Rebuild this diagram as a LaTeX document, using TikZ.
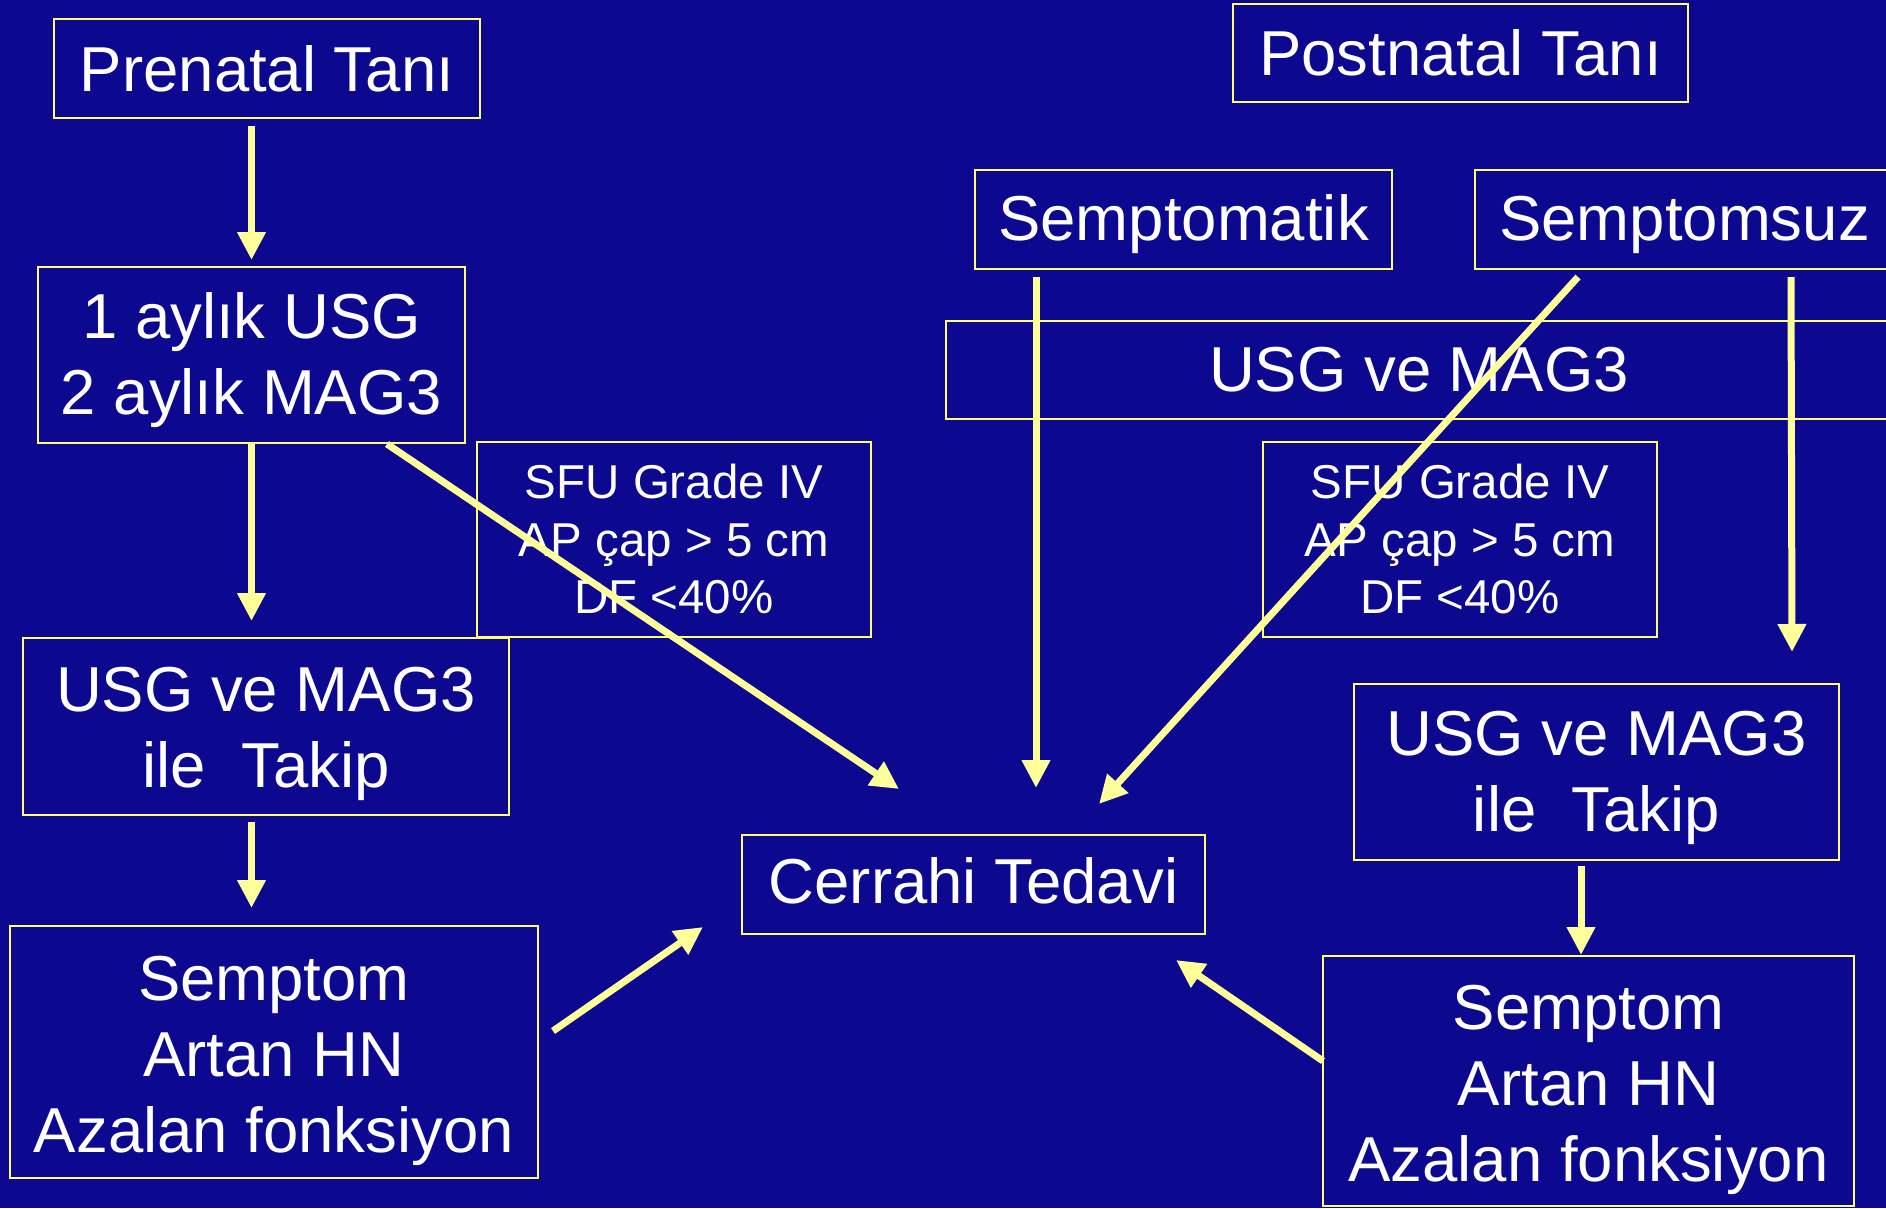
\documentclass[tikz,border=0pt]{standalone}
\usepackage{fontspec}
\setmainfont{Liberation Sans}
\usetikzlibrary{arrows.meta,calc}
\definecolor{bg}{RGB}{12,8,144}
\definecolor{boxline}{RGB}{255,255,110}
\definecolor{arrowcol}{RGB}{255,255,153}
\newcommand{\shtext}[2]{\raisebox{-#1}[\height][\depth]{\begin{tabular}{@{}c@{}}#2\end{tabular}}}
\tikzset{
  box/.style={draw=boxline, line width=2pt, rectangle, inner sep=0pt, align=center,
    text=white, font=\fontsize{63.5}{76}\selectfont},
  smallbox/.style={box, font=\fontsize{47.5}{57.5}\selectfont},
  arr/.style={draw=arrowcol, line width=7pt,
    -{Triangle[width=27pt,length=28pt]}, arrowcol}
}
\begin{document}
\begin{tikzpicture}[x=1pt,y=-1pt]
\fill[bg] (0,0) rectangle (1886,1208);
\useasboundingbox (0,0) rectangle (1886,1208);

\node[box, minimum width=426pt, minimum height=99pt] (pre) at (267,68.5) {Prenatal Tanı};
\node[box, minimum width=455pt, minimum height=98pt] (post) at (1460.5,53) {Postnatal Tanı};
\node[box, minimum width=417pt, minimum height=99pt] (symp) at (1183.5,219.5) {\shtext{6pt}{Semptomatik}};
\node[box, minimum width=419pt, minimum height=99pt] (asymp) at (1684.5,219.5) {\shtext{6pt}{Semptomsuz}};
\node[box, minimum width=946pt, minimum height=98pt] (usgwide) at (1419,370) {USG ve MAG3};
\node[box, minimum width=427pt, minimum height=176pt] (usg1) at (251.5,355) {\shtext{6pt}{1 aylık USG\\2 aylık MAG3}};
\node[smallbox, minimum width=394pt, minimum height=195pt] (sfuL) at (674,539.5) {SFU Grade IV\\AP çap > 5 cm\\DF <40\%};
\node[smallbox, minimum width=394pt, minimum height=195pt] (sfuR) at (1460,539.5) {SFU Grade IV\\AP çap > 5 cm\\DF <40\%};
\node[box, minimum width=486pt, minimum height=177pt] (takipL) at (266,726.5) {\shtext{8pt}{USG ve MAG3\\ile\ \ Takip}};
\node[box, minimum width=528pt, minimum height=252pt] (semL) at (274,1052) {\shtext{9pt}{Semptom\\Artan HN\\Azalan fonksiyon}};
\node[box, minimum width=463pt, minimum height=99pt] (cerr) at (973.5,884.5) {\shtext{3.5pt}{Cerrahi Tedavi}};
\node[box, minimum width=485pt, minimum height=176pt] (takipR) at (1596.5,772) {\shtext{6pt}{USG ve MAG3\\ile\ \ Takip}};
\node[box, minimum width=531pt, minimum height=250pt] (semR) at (1588.5,1081) {\shtext{9.5pt}{Semptom\\Artan HN\\Azalan fonksiyon}};

% left column
\draw[arr, shorten <=7pt, shorten >=6pt] (usg1.north |- pre.south) -- (usg1.north);
\draw[arr, shorten >=16pt] (usg1.south) -- (usg1.south |- takipL.north);
\draw[arr, shorten <=6pt, shorten >=17pt] (usg1.south |- takipL.south) -- (usg1.south |- semL.north);
\draw[arr] ($(usg1.south)+(135.5,0)$) -- ($(cerr.north)+(-74.5,-45)$);
\draw[arr] ($(semL.east)+(14,-21)$) -- ($(cerr.west)+(-38,42.5)$);

% right column
\draw[arr] ($(symp.south west)+(62,7)$) -- ($(cerr.north west)+(295,-46)$);
\draw[arr] ($(asymp.south west)+(104,7)$) -- ($(cerr.north east)+(-107,-30)$);
\draw[arr] ($(asymp.south west)+(317,7)$) -- ($(takipR.north)+(195.5,-31)$);
\draw[arr] ($(takipR.south)+(-15.5,5)$) -- ($(semR.north)+(-7.5,0)$);
\draw[arr] ($(semR.west)+(1,-20)$) -- ($(cerr.south east)+(-30,25)$);
\end{tikzpicture}
\end{document}
